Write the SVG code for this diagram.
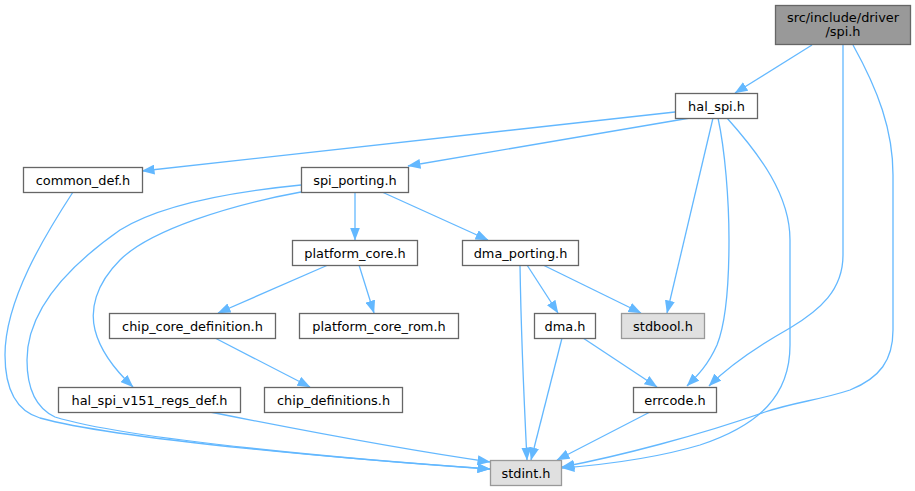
<svg xmlns="http://www.w3.org/2000/svg" width="915" height="491" viewBox="0 0 915 491">
<defs>
<style>
.n rect{fill:#ffffff;stroke:#666666;stroke-width:1.3}
.n.sys rect{fill:#e0e0e0;stroke:#999999}
.n.root rect{fill:#999999;stroke:#666666}
.n text{font-family:"DejaVu Sans","Liberation Sans",sans-serif;font-size:12.9px;fill:#000000;text-anchor:middle}
.e path{fill:none;stroke:#63b8ff;stroke-width:1.3;marker-end:url(#ah)}
</style>
<marker id="ah" markerUnits="userSpaceOnUse" markerWidth="13" markerHeight="10" viewBox="0 0 13 10" refX="12.5" refY="5" orient="auto">
<path d="M0,0 L13,5 L0,10 z" fill="#63b8ff"/>
</marker>
</defs>
<rect width="915" height="491" fill="#ffffff"/>
<g id="edges" class="e">
<path d="M812,45 L735,93"/>
<path d="M843,45 L843,255 C843,290 820,310 790,328 C760,345 730,365 709,386"/>
<path d="M853,45 C878,90 893,130 893,175 L893,330 C893,360 880,378 850,390 C820,400 795,402 765,412 C700,435 620,456 562,467"/>
<path d="M675,112 L142,171"/>
<path d="M690,118 L408,166"/>
<path d="M713,118 L667,313"/>
<path d="M718,118 C725,150 729,200 729,240 C729,280 727,320 717,345 C708,365 698,375 687,386"/>
<path d="M727,118 C760,155 790,195 790,240 L790,345 C790,395 760,425 700,445 C650,460 600,465 562,468"/>
<path d="M73,192 C45,235 5,300 5,355 C5,395 20,412 40,418 C120,440 360,460 490,469"/>
<path d="M301,185 C230,192 160,205 120,230 C70,265 27,310 27,360 C27,395 40,410 55,417 C130,440 360,460 490,469"/>
<path d="M301,192 C230,205 150,230 120,260 C95,285 90,310 95,330 C100,350 115,370 133,387"/>
<path d="M210,412 C300,430 420,452 490,462"/>
<path d="M355,192 L355,240"/>
<path d="M382,192 L488,240"/>
<path d="M328,265 L218,313"/>
<path d="M359,265 L374,313"/>
<path d="M520,265 C521,330 524,400 527,460"/>
<path d="M527,265 L558,313"/>
<path d="M543,265 L641,313"/>
<path d="M562,338 L531,460"/>
<path d="M583,338 L657,387"/>
<path d="M650,412 L557,460"/>
<path d="M215,338 L310,387"/>
</g>
<g id="root" class="n root"><rect x="775.5" y="5.5" width="135" height="39"/><text x="843" y="21.5">src/include/driver</text><text x="843" y="35.5">/spi.h</text></g>
<g id="hal_spi" class="n"><rect x="675.5" y="93.5" width="82" height="25"/><text x="716.5" y="110.5">hal_spi.h</text></g>
<g id="common_def" class="n"><rect x="23.5" y="167.5" width="119" height="25"/><text x="83" y="184.5">common_def.h</text></g>
<g id="spi_porting" class="n"><rect x="301.5" y="167.5" width="107" height="25"/><text x="355" y="184.5">spi_porting.h</text></g>
<g id="platform_core" class="n"><rect x="292.5" y="240.5" width="125" height="25"/><text x="355" y="257.5">platform_core.h</text></g>
<g id="dma_porting" class="n"><rect x="462.5" y="240.5" width="116" height="25"/><text x="520.5" y="257.5">dma_porting.h</text></g>
<g id="chip_core_definition" class="n"><rect x="109.5" y="313.5" width="166" height="25"/><text x="192.5" y="330.5">chip_core_definition.h</text></g>
<g id="platform_core_rom" class="n"><rect x="299.5" y="313.5" width="159" height="25"/><text x="379" y="330.5">platform_core_rom.h</text></g>
<g id="dma" class="n"><rect x="534.5" y="313.5" width="61" height="25"/><text x="565" y="330.5">dma.h</text></g>
<g id="stdbool" class="n sys"><rect x="621.5" y="313.5" width="83" height="25"/><text x="663" y="330.5">stdbool.h</text></g>
<g id="hal_spi_v151_regs_def" class="n"><rect x="58.5" y="387.5" width="182" height="25"/><text x="149.5" y="404.5">hal_spi_v151_regs_def.h</text></g>
<g id="chip_definitions" class="n"><rect x="264.5" y="387.5" width="138" height="25"/><text x="333.5" y="404.5">chip_definitions.h</text></g>
<g id="errcode" class="n"><rect x="633.5" y="387.5" width="83" height="25"/><text x="675" y="404.5">errcode.h</text></g>
<g id="stdint" class="n sys"><rect x="490.5" y="460.5" width="71" height="25"/><text x="526" y="477.5">stdint.h</text></g>
</svg>
